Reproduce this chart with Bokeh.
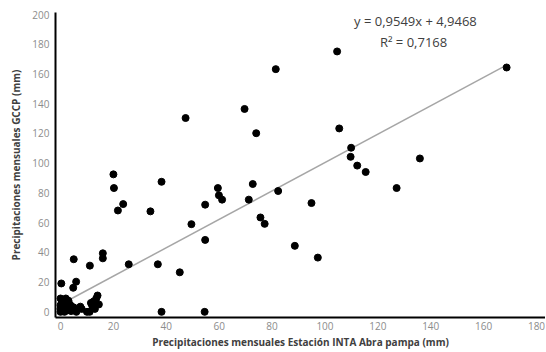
from bokeh.plotting import figure
from bokeh.models import ColumnDataSource, FixedTicker, Range1d
from bokeh.core.properties import value
from bokeh.embed import file_html
from bokeh.resources import INLINE

# Data
inta = [20.0, 20.2, 38.2, 47.3, 69.6, 74.0, 81.4, 104.6, 168.7, 105.4, 109.9, 109.7, 112.2,
        115.4, 135.9, 21.7, 23.7, 34.0, 0.3, 5.0, 5.9, 4.8, 11.1, 16.0, 16.0, 25.8, 36.8,
        45.1, 38.2, 54.5, 49.5, 54.7, 54.7, 59.5, 59.9, 61.1, 72.7, 71.2, 75.6, 77.2, 82.3,
        94.9, 127.1, 88.6, 97.3,
        0.0, 0.5, 1.0, 0.0, 1.5, 2.5, 3.0, 2.0, 4.0, 5.0, 0.0, 1.0, 3.5, 6.0, 8.0, 10.0,
        11.0, 12.0, 12.5, 13.5, 14.0, 14.5, 13.0, 11.5, 7.5,
        0.5, 2.0, 1.5, 3.0, 4.0, 2.5, 0.0]
gccp = [92.5, 83.3, 87.5, 130.4, 136.5, 120.2, 163.3, 175.2, 164.4, 123.4, 110.4, 104.3, 98.4,
        94.1, 103.2, 68.2, 72.5, 67.6, 19.1, 35.4, 20.3, 16.2, 31.1, 39.4, 36.0, 32.0, 32.0,
        26.6, 0.0, 0.0, 59.0, 72.1, 48.4, 83.3, 78.4, 75.5, 86.0, 75.5, 63.5, 59.2, 81.3,
        73.2, 83.3, 44.4, 36.5,
        9.0, 6.0, 4.0, 2.0, 0.0, 7.0, 2.0, 5.0, 0.5, 3.0, 0.0, 1.0, 5.0, 0.0, 2.0, 0.0,
        0.0, 4.0, 7.0, 9.0, 11.0, 5.0, 2.0, 6.0, 3.5,
        8.0, 9.0, 3.0, 7.5, 4.0, 1.0, 4.5]
x_ticks = [0, 20, 40, 60, 80, 100, 120, 140, 160, 180]
y_ticks = [0, 20, 40, 60, 80, 100, 120, 140, 160, 180, 200]
slope = 0.9549
intercept = 4.9468
trend_x = [3.0, 169.0]
eq_lines = ["y = 0,9549x + 4,9468", "R\u00b2 = 0,7168"]
eq_x = [134.2, 133.5]
eq_y = [196.0, 181.5]

p = figure(width=545, height=351, output_backend="svg", toolbar_location=None,
           x_range=Range1d(-1.9, 183.4), y_range=Range1d(-3.8, 201.4),
           min_border_left=55, min_border_right=0, min_border_top=12, min_border_bottom=0)
p.outline_line_color = None
p.xgrid.grid_line_color = None
p.ygrid.grid_line_color = None
p.background_fill_color = "white"

# trend line
p.line(trend_x, [slope * v + intercept for v in trend_x], line_color="#a6a6a6", line_width=1.5)

src = ColumnDataSource(data=dict(x=inta, y=gccp))
p.scatter("x", "y", source=src, size=7, fill_color="black", line_color="black")

p.text(x=eq_x, y=eq_y, text=eq_lines, text_font=value("Open Sans"), text_font_size="13px",
       text_color="#404040", text_align="center", text_baseline="middle")

for ax in (p.xaxis[0], p.yaxis[0]):
    ax.axis_line_color = "black"
    ax.axis_line_width = 2
    ax.major_tick_line_color = None
    ax.minor_tick_line_color = None
    ax.major_tick_out = 0
    ax.major_tick_in = 0
    ax.minor_tick_out = 0
    ax.minor_tick_in = 0
    ax.major_label_text_color = "#8c8c8c"
    ax.major_label_text_font = "Open Sans"
    ax.major_label_text_font_size = "10px"
    ax.axis_label_text_font = "Open Sans"
    ax.axis_label_text_font_style = "bold"
    ax.axis_label_text_font_size = "10px"
    ax.axis_label_text_color = "#404040"

p.xaxis[0].ticker = FixedTicker(ticks=x_ticks)
p.yaxis[0].ticker = FixedTicker(ticks=y_ticks)
p.xaxis[0].axis_label = "Precipitaciones mensuales Estación INTA Abra pampa (mm)"
p.yaxis[0].axis_label = "Precipitaciones mensuales GCCP (mm)"
p.xaxis[0].major_label_standoff = 4
p.yaxis[0].major_label_standoff = 6
p.xaxis[0].axis_label_standoff = 2
p.yaxis[0].axis_label_standoff = 6

open("out.html", "w").write(file_html(p, INLINE))
